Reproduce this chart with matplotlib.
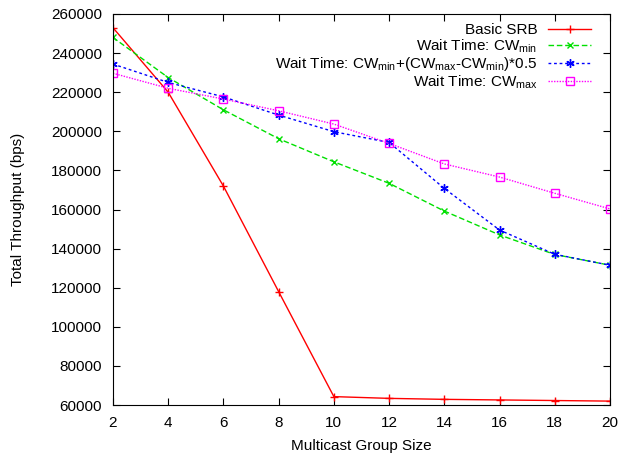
import numpy as np
import matplotlib
matplotlib.use('Agg')
import matplotlib.pyplot as plt

plt.rcParams['font.family'] = ['Liberation Sans', 'DejaVu Sans']
plt.rcParams['mathtext.default'] = 'regular'

# data
group_size = [2, 4, 6, 8, 10, 12, 14, 16, 18, 20]
basic_srb = [253000, 220000, 172000, 118000, 64300, 63400, 62900, 62600, 62300, 62000]
cw_min = [248000, 227500, 211000, 196200, 184400, 173400, 159200, 147000, 137000, 131500]
cw_half = [234400, 225000, 217600, 208300, 199800, 194300, 170800, 149500, 137100, 131500]
cw_max = [229700, 222000, 216500, 210500, 203700, 193800, 183300, 176600, 168300, 160300]

labels = ['Basic SRB',
          r'Wait Time: CW$_{min}$',
          r'Wait Time: CW$_{min}$+(CW$_{max}$-CW$_{min}$)*0.5',
          r'Wait Time: CW$_{max}$']

fig = plt.figure(figsize=(6.24, 4.59), dpi=100)
ax = fig.add_axes([0.181, 0.1176, 0.7966, 0.8519])

ax.plot(group_size, basic_srb, color='#ff0000', ls='-', lw=1, marker='+', ms=6, label=labels[0])
ax.plot(group_size, cw_min, color='#00e000', ls=(0, (4, 2)), lw=1, marker='x', ms=5, label=labels[1])
ax.plot(group_size, cw_half, color='#0000ff', ls=(0, (2, 2)), lw=1, marker=(6, 2, 0), ms=6, label=labels[2])
ax.plot(group_size, cw_max, color='#ff00ff', ls=(0, (1, 1)), lw=1, marker='s', ms=6,
        mfc='none', label=labels[3])

ax.set_xlim(2, 20)
ax.set_ylim(60000, 260000)
ax.set_xticks(np.arange(2, 21, 2))
ax.set_yticks(np.arange(60000, 260001, 20000))
ax.tick_params(direction='in', top=True, right=True, labelsize=11, length=5, pad=8)
ax.set_xlabel('Multicast Group Size', fontsize=11)
ax.set_ylabel('Total Throughput (bps)', fontsize=11)
ax.xaxis.set_label_coords(0.5, -0.087)
ax.yaxis.set_label_coords(-0.176, 0.5)

ax.legend(loc='upper right', bbox_to_anchor=(0.98, 1.0), frameon=False, markerfirst=False,
          alignment='right', fontsize=11, handlelength=2.8, handletextpad=0.7,
          labelspacing=0.02, borderaxespad=0.2)

fig.savefig('out.png', dpi=100)
